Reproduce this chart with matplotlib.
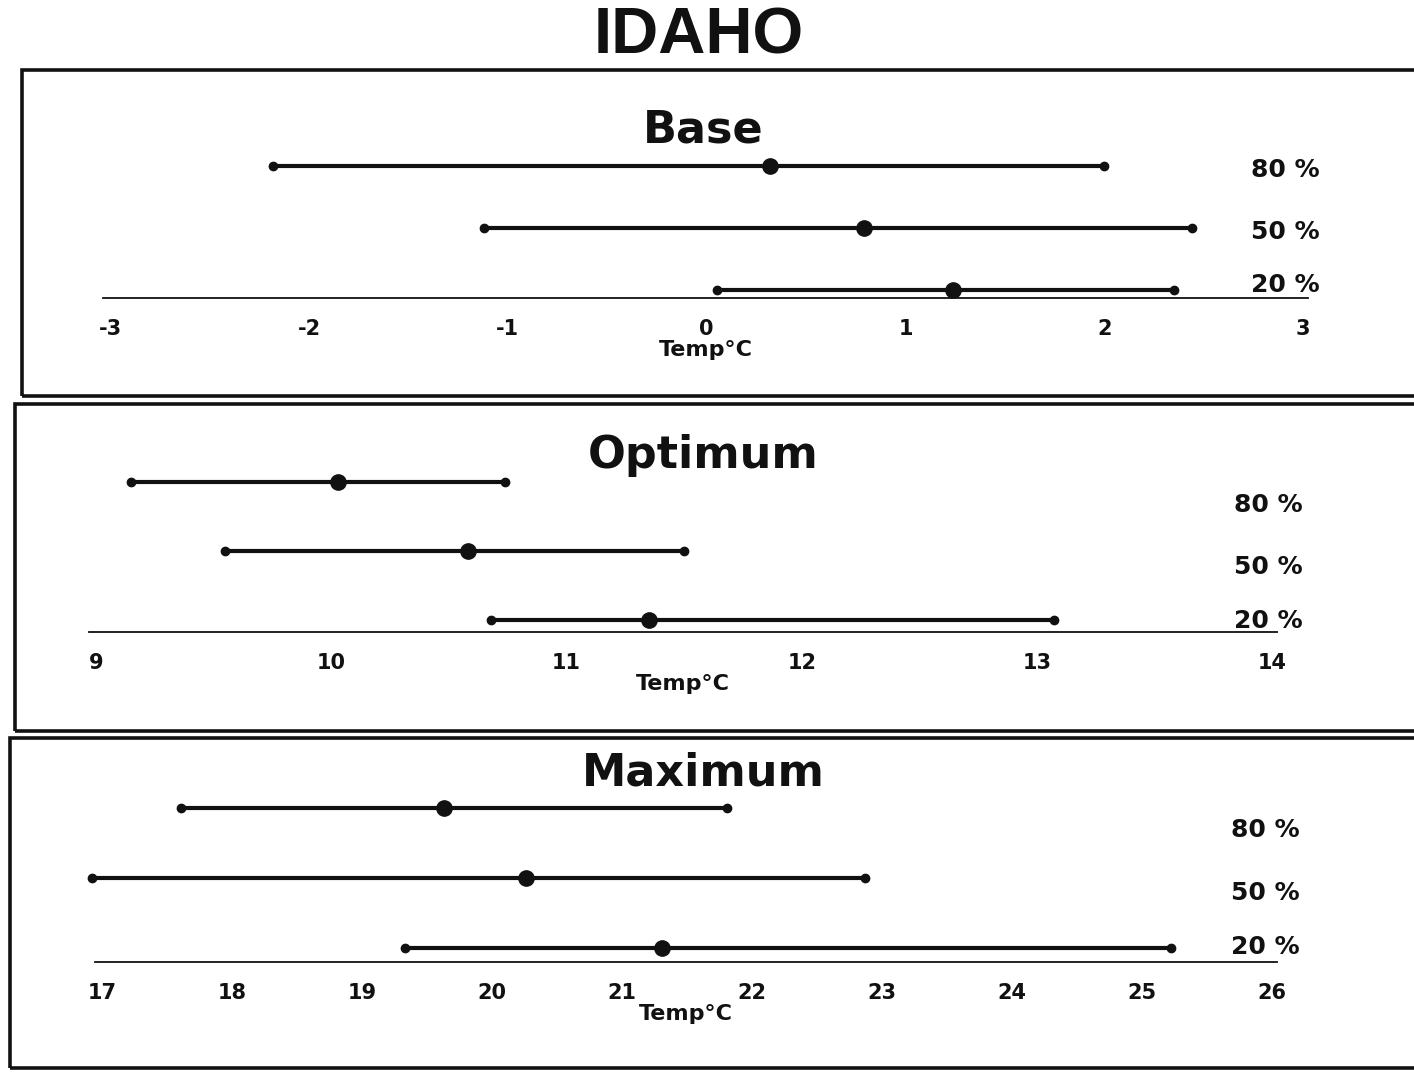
import numpy as np
import matplotlib
matplotlib.use('Agg')
import matplotlib.pyplot as plt
from matplotlib.patches import Rectangle

W, H = 1414, 1076

levels = ['80 %', '50 %', '20 %']

# base temperature
base_low = [-2.18, -1.12, 0.05]
base_mid = [0.32, 0.79, 1.24]
base_high = [2.00, 2.44, 2.35]
base_ticks = [-3, -2, -1, 0, 1, 2, 3]

# optimum temperature
opt_low = [9.15, 9.55, 10.68]
opt_mid = [10.03, 10.58, 11.35]
opt_high = [10.74, 11.50, 13.07]
opt_ticks = [9, 10, 11, 12, 13, 14]

# maximum temperature
max_low = [17.61, 16.92, 19.33]
max_mid = [19.63, 20.26, 21.31]
max_high = [21.81, 22.87, 25.22]
max_ticks = [17, 18, 19, 20, 21, 22, 23, 24, 25, 26]

INK = '#111111'


def fx(x):
    return x / W


def fy(y):
    return 1 - y / H


def draw_panel(fig, title, low, mid, high, ticks, box, ax_px, title_y, pct_x, pct_y):
    # box round the panel
    x0, y0, x1, y1 = box
    fig.patches.append(Rectangle((fx(x0), fy(y1)), fx(x1 - x0), (y1 - y0) / H,
                                 transform=fig.transFigure, fill=False,
                                 lw=2.6, ec=INK))
    fig.text(fx(703), fy(title_y), title, ha='center', va='center',
             fontsize=32, fontweight='bold', color=INK)

    left, right, baseline, lift, gap = ax_px
    ax = fig.add_axes([fx(left), fy(baseline), fx(right - left), 3 * gap / H])
    y0 = -lift / gap
    ax.set_ylim(y0, y0 + 3)
    span = ticks[-1] - ticks[0]
    ax.set_xlim(ticks[0] - span * 0.006, ticks[-1] + span * 0.004)

    # rows: 20 % at bottom
    rows = np.arange(len(levels))[::-1]
    for r, lo, m, hi in zip(rows, low, mid, high):
        ax.plot([lo, hi], [r, r], color=INK, lw=3, solid_capstyle='round', clip_on=False)
        ax.plot([lo, hi], [r, r], 'o', color=INK, ms=6, clip_on=False)
        ax.plot([m], [r], 'o', color=INK, ms=11, clip_on=False)

    for s in ['top', 'left', 'right']:
        ax.spines[s].set_visible(False)
    ax.spines['bottom'].set_linewidth(1.3)
    ax.spines['bottom'].set_color(INK)
    ax.set_yticks([])
    ax.set_xticks(ticks)
    ax.set_xticklabels([str(t) for t in ticks], fontsize=15, fontweight='bold', color=INK)
    ax.tick_params(axis='x', length=0, pad=15)
    ax.set_xlabel('Temp°C', fontsize=16, fontweight='bold', color=INK, labelpad=1)
    ax.patch.set_visible(False)

    for lab, py in zip(levels, pct_y):
        fig.text(fx(pct_x), fy(py), lab, ha='center', va='center',
                 fontsize=18, fontweight='bold', color=INK)
    return ax


if __name__ == '__main__':
    fig = plt.figure(figsize=(W / 100, H / 100), dpi=100)
    fig.text(fx(699), fy(36), 'IDAHO', ha='center', va='center',
             fontsize=47, fontweight='bold', color=INK,
             family=['Liberation Sans', 'DejaVu Sans'])

    draw_panel(fig, 'Base', base_low, base_mid, base_high, base_ticks,
               (22, 70, 1430, 396), (103, 1308, 298, 8, 62), 130,
               1285, [170, 232, 285])
    draw_panel(fig, 'Optimum', opt_low, opt_mid, opt_high, opt_ticks,
               (15, 404, 1430, 731), (89, 1277, 632, 12, 69), 455,
               1268, [505, 567, 621])
    draw_panel(fig, 'Maximum', max_low, max_mid, max_high, max_ticks,
               (10, 738, 1430, 1068), (95, 1277, 962, 14, 70), 773,
               1265, [830, 893, 947])

    fig.savefig('out.png', dpi=100)
